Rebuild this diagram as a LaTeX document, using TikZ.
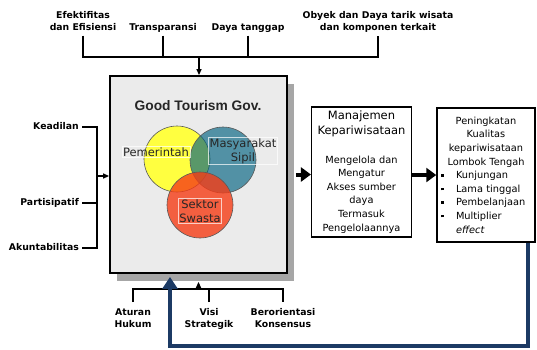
\documentclass[tikz,border=0pt]{standalone}
\usepackage{fontspec}
\setmainfont{DejaVu Sans}
\newfontfamily\titlefont{Liberation Sans}
\usetikzlibrary{arrows.meta,shadows}
\definecolor{vennyellow}{HTML}{FFFF40}
\definecolor{vennblue}{RGB}{0,98,128}
\definecolor{vennred}{RGB}{245,60,22}
\definecolor{loopblue}{HTML}{1C3A64}
\definecolor{boxgray}{HTML}{EBEBEB}
\newcommand{\bul}{\makebox[15pt][l]{\rule[2pt]{2.6pt}{2.6pt}}}

\begin{document}
\begin{tikzpicture}[x=1pt,y=-1pt]
\tikzstyle{lbl}=[font=\fontsize{9.3}{12}\selectfont\bfseries, align=center, inner sep=1pt,
  execute at begin node=\strut, execute at end node=\strut]
\tikzstyle{wire}=[line width=1.3pt]
\tikzstyle{venn}=[circle, draw=black!65, line width=0.6pt, minimum size=66pt, inner sep=0pt]
\tikzstyle{vtxt}=[font=\fontsize{11.5}{14}\selectfont, text=black!85, align=center,
  inner sep=1pt, draw=white, draw opacity=0.7, line width=0.5pt]
\tikzstyle{box}=[draw, line width=1.5pt, fill=white, font=\fontsize{9.8}{13.6}\selectfont]
\useasboundingbox (0,0) rectangle (537,349);

% top criteria
\node[lbl, anchor=south] (ef) at (83,35.5) {Efektifitas\\dan Efisiensi};
\node[lbl, anchor=south] (tr) at (163,35.5) {Transparansi};
\node[lbl, anchor=south] (dt) at (248,35.5) {Daya tanggap};
\node[lbl, anchor=south] (ob) at (378,35.5) {Obyek dan Daya tarik wisata\\dan komponen terkait};

% left criteria
\node[lbl, anchor=east] (kd) at (80,127) {Keadilan};
\node[lbl, anchor=east] (pt) at (80,203) {Partisipatif};
\node[lbl, anchor=east] (ak) at (80,248) {Akuntabilitas};

% bottom criteria
\node[lbl, anchor=north] (ah) at (133,307.5) {Aturan\\Hukum};
\node[lbl, anchor=north] (vs) at (209,307.5) {Visi\\Strategik};
\node[lbl, anchor=north] (bk) at (283,307.5) {Berorientasi\\Konsensus};

% main box
\node[draw, line width=1.8pt, fill=boxgray, minimum width=177pt, minimum height=197pt,
  drop shadow={shadow xshift=7pt, shadow yshift=-8pt, fill=gray!70, opacity=1}] (main) at (198.5,174.5) {};
\node[font=\titlefont\bfseries\fontsize{13.8}{16}\selectfont, text=black!85] (title) at (198,106) {Good Tourism Gov.};

\node[venn, fill=vennyellow] (pem) at (177,159) {};
\node[venn, fill=vennblue, fill opacity=0.65] (mas) at (223,160) {};
\node[venn, fill=vennred, fill opacity=0.8] (swa) at (200,205) {};
\node[vtxt] (pemtxt) at (156,152) {Pemerintah};
\node[vtxt] (mastxt) at (243,151) {Masyarakat\\Sipil};
\node[vtxt] (swatxt) at (200,211) {Sektor\\Swasta};

% right boxes
\node[box, minimum width=99pt, minimum height=130pt, text width=93pt, align=center] (mgmt) at (361.5,172)
  {{\fontsize{11.5}{15}\selectfont Manajemen\\ Kepariwisataan\par}\vspace{15pt}
   Mengelola dan\\ Mengatur\\ Akses sumber\\ daya\\ Termasuk\\ Pengelolaannya};
\node[box, minimum width=98pt, minimum height=134pt, text width=90pt, align=left] (out) at (486,175)
  {{\centering Peningkatan\\ Kualitas\\ kepariwisataan\\ Lombok Tengah\par}
   \bul Kunjungan\\ \bul Lama tinggal\\ \bul Pembelanjaan\\ \bul Multiplier\\
   \hspace*{15pt}\textit{effect}};

% connectors
\coordinate (tbus) at (199,57);
\draw[wire] (ef.south) -- (ef.south |- tbus) -- (ob.south |- tbus) -- (ob.south);
\draw[wire] (tr.south) -- (tr.south |- tbus);
\draw[wire] (dt.south) -- (dt.south |- tbus);
\draw[wire, -{Triangle[length=6pt,width=5pt]}] (tbus) -- (tbus |- main.north);

\coordinate (lbus) at (97,176);
\draw[wire] ([xshift=2pt]kd.east) -- (kd.east -| lbus) -- (ak.east -| lbus) -- ([xshift=2pt]ak.east);
\draw[wire] ([xshift=2pt]pt.east) -- (pt.east -| lbus);
\draw[wire, -{Triangle[length=6pt,width=5pt]}] (lbus) -- (lbus -| main.west);

\coordinate (bbus) at (198.5,289);
\draw[wire] ([yshift=5.5pt]ah.north) -- (ah.north |- bbus) -- (bk.north |- bbus) -- ([yshift=5.5pt]bk.north);
\draw[wire] ([yshift=5.5pt]vs.north) -- (vs.north |- bbus);
\draw[wire, -{Triangle[length=6pt,width=5pt]}] (bbus) -- ([yshift=-8pt]main.south);

\draw[line width=4pt, -{Triangle[length=10pt,width=14pt]}] ([xshift=8pt]main.east) -- (main.east -| mgmt.west);
\draw[line width=4pt, -{Triangle[length=10pt,width=14pt]}] (out.west -| mgmt.east) -- (out.west);

\draw[loopblue, line width=3.5pt, -{Triangle[length=12pt,width=15pt]}]
  ([xshift=42pt]out.south) -- ++(0,103) -| ([xshift=-28.5pt,yshift=-3pt]main.south);
\end{tikzpicture}
\end{document}
